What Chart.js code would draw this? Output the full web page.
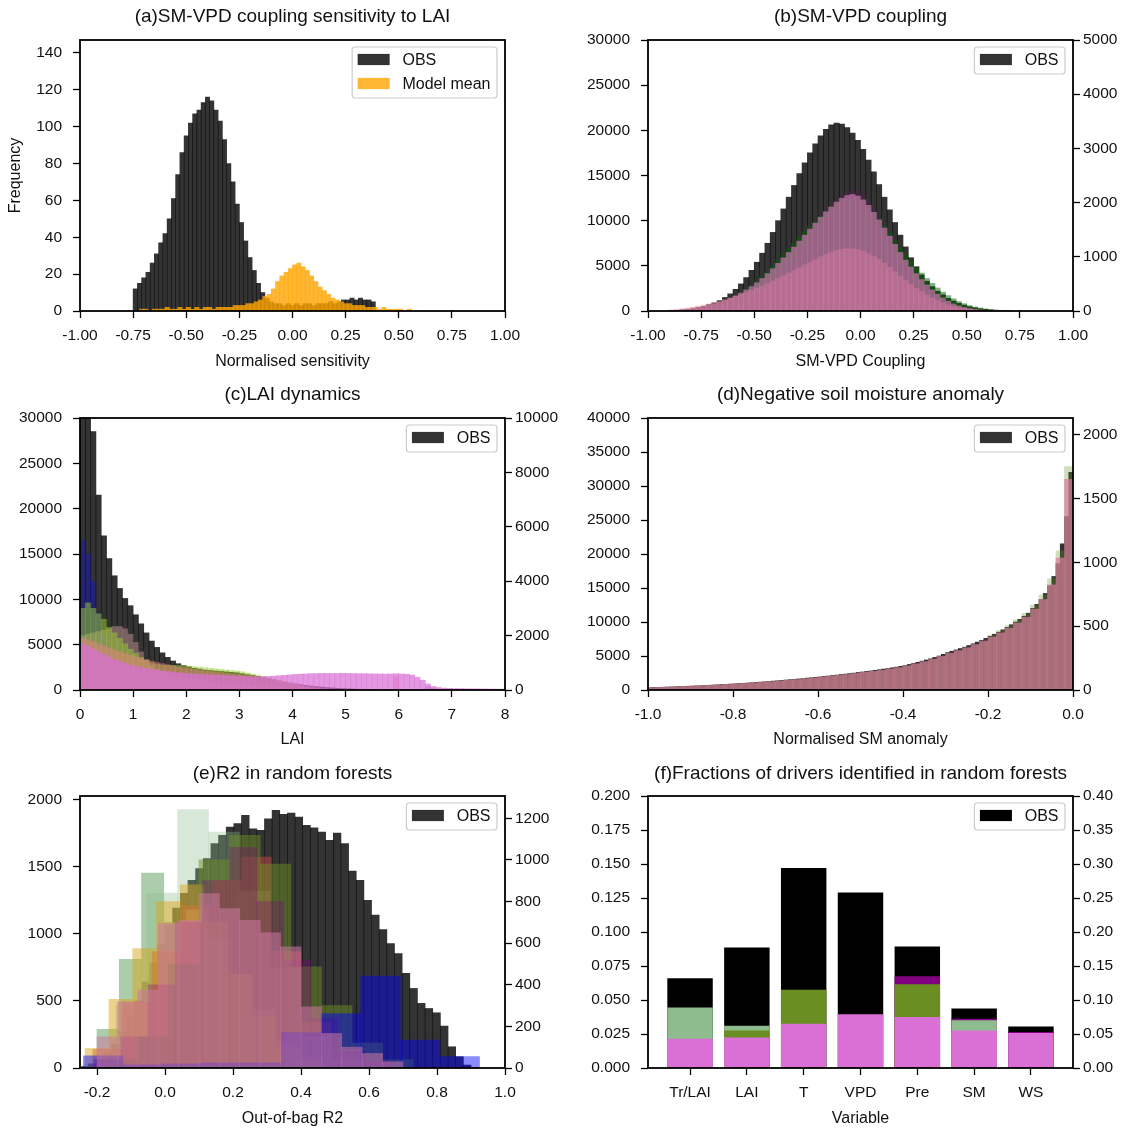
<!DOCTYPE html>
<html><head><meta charset="utf-8">
<script src="https://cdn.jsdelivr.net/npm/chart.js@4.4.1/dist/chart.umd.min.js"></script>
<style>
html,body{margin:0;padding:0;background:#fff;overflow:hidden}
#fig{position:relative;width:1132px;height:1130px;background:#fff}
canvas{position:absolute}
</style></head><body>
<div id="fig">
<canvas id="ca" width="566" height="380" style="left:0;top:0"></canvas>
<canvas id="cb" width="566" height="380" style="left:566px;top:0"></canvas>
<canvas id="cc" width="566" height="380" style="left:0;top:380px"></canvas>
<canvas id="cd" width="566" height="380" style="left:566px;top:380px"></canvas>
<canvas id="ce" width="566" height="370" style="left:0;top:760px"></canvas>
<canvas id="cf" width="566" height="370" style="left:566px;top:760px"></canvas>
</div>
<script>
// ---------------- DATA ----------------
// (a) histograms: bin start, bin width, counts
const aObsStart = -0.75, aObsWidth = 0.02;
const aObs = [12,15,18,21,26,31,37,42,50,61, 74,86,95,102,107,109,113,116,114,109,
  103,93,80,70,58,48,38,29,22,15, 10,7,5,4,4,3,4,3,4,3, 4,4,3,4,4,4,5,4,5,6, 6,7,6,7,6,6,5];
const aModelStart = -0.72, aModelWidth = 0.02;
const aModel = [1,1,0,1,1,1,2,1,1,2, 1,2,1,2,1,2,2,1,2,2, 2,2,3,3,3,4,4,5,6,8,
  9,12,16,19,21,23,25,26,24,22, 19,16,13,11,9,7,6,5,4,4, 3,3,3,2,2,2,1,2,1,1, 1,1,0,1];

// (b) SM-VPD coupling (bins of 0.025 from -0.9)
const bStart = -0.9, bWidth = 0.025;
const bObs = [40,70,120,190,280,390,520,700,900,1150,1500,1900,2400,3000,3700,4500,5400,6400,7500,8700,
  10000,11300,12600,13900,15200,16400,17500,18500,19400,20100,20600,20800,20700,20300,19700,18900,17900,16700,15400,14000,
  12600,11200,9800,8400,7100,5900,4900,4000,3300,2700,2200,1800,1400,1100,850,650,480,350,250,180,120,80,50,30];
const bGreen = [5,10,15,25,35,50,70,90,115,145,180,225,275,330,395,465,545,635,730,830,
  935,1040,1145,1250,1355,1460,1560,1655,1745,1830,1905,1970,2030,2070,2080,2060,2010,1930,1830,1710,
  1580,1440,1300,1170,1040,920,810,700,600,510,425,350,285,225,175,135,100,75,55,40,28,18,10,5];
const bPurple = [0,0,0,0,5,10,15,25,35,50,70,95,125,160,205,255,315,385,465,555,
  655,765,880,1000,1125,1255,1385,1515,1645,1770,1890,2000,2100,2180,2230,2210,2140,2030,1890,1730,
  1560,1380,1200,1030,870,720,590,470,370,285,215,160,115,80,55,35,22,13,7,4,2,1,0,0];
const bCoral = [20,30,42,56,72,90,110,132,156,182,210,240,272,306,342,380,420,462,506,552,
  600,650,700,750,800,850,900,950,1000,1045,1085,1120,1140,1150,1145,1130,1100,1060,1010,950,
  880,805,725,645,565,490,420,355,295,240,192,150,115,86,63,45,31,21,14,9,5,3,2,1];
const bOrchid = [10,15,25,35,50,65,85,105,130,160,195,235,280,330,390,450,520,600,690,780,
  880,980,1080,1180,1290,1400,1510,1620,1730,1830,1920,2010,2080,2130,2150,2120,2050,1950,1820,1680,
  1530,1380,1230,1080,940,810,690,580,480,390,310,240,180,130,95,65,45,30,20,12,8,5,3,2];

// (c) LAI dynamics (bins of 0.1 from 0)
const cStart = 0, cWidth = 0.1;
const cObs = [45000,36000,28500,21500,17000,14500,12600,11200,10100,9300, 8300,7300,6300,5400,4700,4100,3600,3200,2900,2700,
  2550,2400,2300,2200,2150,2100,2050,2000,1950,1900, 1800,1700,1600,1480,1360,1240,1120,1000,880,770,
  670,580,500,430,370,320,270,230,190,160, 130,110,90,75,60,50,40,32,25,20,
  15,10,8,5,3,2,1,1,0,0, 0,0,0,0,0,0,0,0,0,0];
const cBlue = [5500,5000,4000,2800,2000,1600,1300,1100,950,850, 780,720,670,630,600,580,560,550,540,530,
  500,470,440,410,380,350,320,290,260,230, 200,180,160,140,120,100,85,70,60,50,
  40,35,30,25,20,15,12,10,8,6, 5,4,3,3,2,2,2,2,2,2, 2,2,2,2,2,120,60,0,0,0, 0,0,0,0,0,0,0,0,0,0];
const cRosy = [2000,2050,2100,2150,2200,2250,2330,2330,2250,2050, 1750,1400,1100,900,760,660,590,540,500,460,
  430,400,370,340,310,285,260,240,220,200, 180,160,145,130,115,100,90,80,70,60,
  50,45,40,35,30,25,20,18,15,12, 10,8,6,5,4,3,2,2,1,1, 0,0,0,0,0,0,0,0,0,0, 0,0,0,0,0,0,0,0,0,0];
const cOlive = [3000,3200,3000,2800,2600,2300,2100,1900,1700,1500, 1350,1200,1100,1000,950,920,910,905,900,900,
  880,860,840,820,800,780,760,740,720,700, 670,630,590,545,500,450,400,350,300,250,
  200,150,110,80,50,30,20,10,5,0, 0,0,0,0,0,0,0,0,0,0, 0,0,0,0,0,0,0,0,0,0, 0,0,0,0,0,0,0,0,0,0];
const cCoral = [1900,1850,1780,1700,1620,1550,1480,1410,1340,1280, 1220,1160,1110,1060,1010,970,930,890,850,820,
  790,760,730,700,680,660,640,610,590,570, 550,530,510,480,450,420,380,340,300,260,
  220,180,140,110,80,60,40,30,20,10, 5,5,5,5,5,5,5,5,5,500, 5,0,0,0,0,0,0,0,0,0, 0,0,0,0,0,0,0,0,0,0];
const cOrchid = [1700,1600,1500,1400,1300,1200,1120,1050,980,920, 870,830,790,760,730,700,680,660,640,620,
  600,590,580,570,560,550,540,530,520,510, 500,495,490,490,495,500,510,525,540,555,
  570,580,590,600,605,610,610,605,610,615, 610,605,600,600,595,590,590,585,590,600,
  590,580,550,470,360,220,130,90,70,60, 55,50,48,45,42,40,38,35,33,30];

// (d) negative SM anomaly
const dObsStart = -1, dObsWidth = 0.01;
const dObs = [350,370,390,410,430,455,480,505,530,555, 580,610,640,670,700,735,770,805,840,875,
  910,950,990,1030,1075,1120,1165,1210,1260,1310, 1360,1410,1465,1520,1575,1630,1690,1750,1810,1870,
  1930,1990,2060,2130,2200,2270,2340,2410,2490,2570, 2650,2730,2810,2900,2990,3080,3170,3270,3370,3480,
  3600,3760,3920,4080,4250,4420,4600,4800,5000,5250, 5500,5700,5900,6100,6300,6550,6800,7050,7300,7600,
  7900,8200,8500,8850,9200,9600,10000,10400,10850,11300, 12000,12600,13300,14200,15300,16700,18600,21500,25500,32000];
const dModStart = -1, dModWidth = 0.02;
const dMauve = [18,21,23,25,28,31,34,37,40,44, 48,52,56,61,66,71,77,82,89,95,
  101,108,115,122,130,139,147,156,166,176, 190,206,223,242,264,288,309,331,357,384,
  415,447,484,525,570,633,708,824,1033,1650];
const dGreen = [17,20,22,24,27,30,33,36,39,43, 46,50,54,59,64,69,75,80,86,92,
  98,105,112,118,126,135,143,151,161,171, 184,200,216,235,256,280,300,321,346,373,
  430,465,505,550,600,665,745,870,1090,1750];

// (e) out-of-bag R2
const eObsStart = -0.2475, eObsWidth = 0.0225;
const eObs = [10,30,60,110,180,270,380,500,640,780,920,1060,1190,1300,
  1397,1484,1558,1670,1731,1793,1818,1880,1780,1768,1855,1917,1887,1897,1867,1805,1788,1756,1694,1748,1670,
  1466,1397,1248,1137,1030,926,852,704,592,481,443,411,312,158,84,22,5];
const ePaleStart = -0.236, ePaleWidth = 0.091, ePale = [20,300,841,1242,1134,850,480,150,40];
const eSeaStart = -0.2, eSeaWidth = 0.0655, eSea = [186,522,937,700,760,620,450,280,130,50];
const eRedStart = -0.2125, eRedWidth = 0.0875, eRed = [90,318,560,780,900,1014,560,220,90,30];
const eOrangeStart = -0.235, eOrangeWidth = 0.07, eOrange = [94,330,574,800,880,700,450,250,100,30];
const eOliveStart = -0.17, eOliveWidth = 0.09, eOlive = [40,150,500,1000,1118,980,486,300,120,40];
const ePurpleStart = -0.21, ePurpleWidth = 0.08, ePurple = [40,150,400,700,900,1060,800,520,240,80,30];
const ePinkStart = -0.2, ePinkWidth = 0.06, ePink = [150,318,374,694,710,838,766,710,650,582,294,166,100,70,30];
const eBlueStart = -0.24, eBlueWidth = 0.1165, eBlue = [58,15,20,25,25,170,262,442,134,55];

// (f) fractions of drivers
const fCats = ['Tr/LAI','LAI','T','VPD','Pre','SM','WS'];
const fObs = [0.066,0.0886,0.147,0.129,0.0894,0.0437,0.0305];
const fOrchid = [0.043,0.045,0.065,0.079,0.075,0.0553,0.0514];
const fLightGreen = [0.089,0.062,null,null,null,0.0702,null];
const fOlive = [null,0.055,0.115,null,0.123,null,null];
const fPurple = [null,null,null,null,0.135,0.0726,0.0528];

// ---------------- HELPERS ----------------
const FONT = '"Liberation Sans", Arial, Helvetica, sans-serif';
Chart.defaults.font.family = FONT;
Chart.defaults.color = '#111';
const TF = 15.5, LF = 16;

function tickGrid() {
  return {display:true, drawOnChartArea:false, drawTicks:true, tickLength:7, tickColor:'#000', tickWidth:1.3, offset:false};
}
function fixedTicks(min, max, step) {
  return (s) => {
    const t = [];
    const first = Math.ceil(min / step - 1e-9);
    for (let k = first; k * step <= max + 1e-9; k++) t.push({value: +(k * step).toFixed(6)});
    s.ticks = t;
  };
}
function xAxis(o) {
  return {type:'linear', position:'bottom', min:o.min, max:o.max, offset:false,
    ticks:{autoSkip:false, maxRotation:0, padding:8.7, font:{size:TF}, color:'#111', callback:o.fmt},
    afterBuildTicks: fixedTicks(o.min, o.max, o.step),
    grid:tickGrid(), border:{display:false},
    title:{display:true, text:o.title, font:{size:LF}, color:'#111', padding:{top:0,bottom:o.titlePad}},
    afterFit:(s)=>{ s.height = o.height; }};
}
function yAxis(o) {
  return {type:'linear', position:o.pos, min:0, max:o.max,
    ticks:{autoSkip:false, padding:(o.pos === 'left' ? 11 : 3), font:{size:TF}, color:'#111', callback:o.fmt},
    afterBuildTicks: fixedTicks(0, o.max, o.step),
    grid:tickGrid(), border:{display:false},
    title: o.title ? {display:true, text:o.title, font:{size:LF}, color:'#111', padding:{top:6,bottom:0}} : {display:false},
    afterFit:(s)=>{ s.width = o.width; }};
}
function hiddenX(min, max) {
  return {type:'linear', display:false, min, max, offset:false, ticks:{count:2}, grid:{offset:false}};
}
function hist(label, start, width, values, color, xID, yID, order) {
  return {type:'bar', label, data: values.map((v,i)=>({x: start + (i+0.5)*width, y: v})),
    backgroundColor: color, borderWidth:0, barPercentage:1, categoryPercentage:1, grouped:false,
    xAxisID:xID, yAxisID:yID, clip:0, order};
}
function catBars(label, values, color, yID, order) {
  return {type:'bar', label, data: values.map((v,i)=>({x:i, y:v})), backgroundColor:color, borderWidth:0,
    barPercentage:0.8, categoryPercentage:1, grouped:false, xAxisID:'x', yAxisID:yID, clip:0, order};
}
const fmt0 = v => String(Math.round(v));
const fmtN = d => v => (Math.abs(v) < 1e-9 ? 0 : v).toFixed(d);

const framePlugin = {id:'frame', afterDatasetsDraw(chart) {
  const {ctx, chartArea:a} = chart; ctx.save();
  ctx.strokeStyle = '#000'; ctx.lineWidth = 1.8;
  ctx.strokeRect(a.left, a.top, a.right - a.left, a.bottom - a.top); ctx.restore();
}};
const legendPlugin = {id:'insideLegend', afterDraw(chart, args, opts) {
  const items = opts.items; if (!items || !items.length) return;
  const {ctx, chartArea:a} = chart; const F = 16;
  ctx.save(); ctx.font = F + 'px ' + FONT;
  let tw = 0; items.forEach(it => { tw = Math.max(tw, ctx.measureText(it.label).width); });
  const padL = 5.5, hw = 32, hh = 11.2, gap = 12.8, padR = 6.5, rowH = 24;
  const w = padL + hw + gap + tw + padR, h = 27 + (items.length - 1) * rowH;
  const right = a.right - 8, top = a.top + 7, left = right - w, r = 3;
  ctx.beginPath();
  ctx.moveTo(left + r, top); ctx.lineTo(left + w - r, top); ctx.arcTo(left + w, top, left + w, top + r, r);
  ctx.lineTo(left + w, top + h - r); ctx.arcTo(left + w, top + h, left + w - r, top + h, r);
  ctx.lineTo(left + r, top + h); ctx.arcTo(left, top + h, left, top + h - r, r);
  ctx.lineTo(left, top + r); ctx.arcTo(left, top, left + r, top, r); ctx.closePath();
  ctx.fillStyle = 'rgba(255,255,255,0.85)'; ctx.fill();
  ctx.strokeStyle = '#cccccc'; ctx.lineWidth = 1.2; ctx.stroke();
  items.forEach((it, i) => {
    const cy = top + 12.5 + i * rowH;
    ctx.fillStyle = it.color; ctx.fillRect(left + padL, cy - hh / 2, hw, hh);
    ctx.fillStyle = '#111'; ctx.textAlign = 'left'; ctx.textBaseline = 'middle';
    ctx.fillText(it.label, left + padL + hw + gap, cy + 1);
  });
  ctx.restore();
}};

function make(id, o) {
  return new Chart(document.getElementById(id), {
    type:'bar',
    data:{datasets:o.datasets},
    options:{
      responsive:false, animation:false, events:[],
      layout:{padding:{left:0, right:o.padRight || 0, top:0, bottom:0}},
      plugins:{
        legend:{display:false}, tooltip:{enabled:false},
        title:{display:true, fullSize:false, text:o.title, color:'#111', font:{size:19, weight:'normal'}, padding:{top:o.tp, bottom:o.tb}},
        insideLegend:{items:o.legend}
      },
      scales:o.scales
    },
    plugins:[framePlugin, legendPlugin]
  });
}

const OBS = 'rgba(0,0,0,0.8)';
const R1 = [5.3, 11.9], R2 = [3.6, 11.6], R3 = [2.6, 10.6];

// (a)
make('ca', {
  title:'(a)SM-VPD coupling sensitivity to LAI', tp:R1[0], tb:R1[1], padRight:61,
  legend:[{label:'OBS', color:OBS},{label:'Model mean', color:'rgba(255,165,0,0.8)'}],
  datasets:[
    hist('Model mean', aModelStart, aModelWidth, aModel, 'rgba(255,165,0,0.8)', 'xm', 'y', 0),
    hist('OBS', aObsStart, aObsWidth, aObs, OBS, 'x', 'y', 1)
  ],
  scales:{
    x: xAxis({min:-1, max:1, step:0.25, fmt:fmtN(2), title:'Normalised sensitivity', titlePad:8.9, height:69}),
    xm: hiddenX(-1, 1),
    y: yAxis({pos:'left', max:147, step:20, fmt:fmt0, width:80, title:'Frequency'})
  }
});

// (b)
make('cb', {
  title:'(b)SM-VPD coupling', tp:R1[0], tb:R1[1],
  legend:[{label:'OBS', color:OBS}],
  datasets:[
    hist('Model 4', bStart, bWidth, bOrchid, 'rgba(210,120,180,0.65)', 'x', 'y2', 1),
    hist('Model 3', bStart, bWidth, bCoral, 'rgba(240,128,128,0.45)', 'x', 'y2', 2),
    hist('Model 2', bStart, bWidth, bPurple, 'rgba(128,0,128,0.15)', 'x', 'y2', 3),
    hist('Model 1', bStart, bWidth, bGreen, 'rgba(0,100,0,0.5)', 'x', 'y2', 4),
    hist('OBS', bStart, bWidth, bObs, OBS, 'x', 'y', 10)
  ],
  scales:{
    x: xAxis({min:-1, max:1, step:0.25, fmt:fmtN(2), title:'SM-VPD Coupling', titlePad:8.9, height:69}),
    y: yAxis({pos:'left', max:30000, step:5000, fmt:fmt0, width:82}),
    y2: yAxis({pos:'right', max:5000, step:1000, fmt:fmt0, width:59})
  }
});

// (c)
make('cc', {
  title:'(c)LAI dynamics', tp:R2[0], tb:R2[1],
  legend:[{label:'OBS', color:OBS}],
  datasets:[
    hist('Model 5', cStart, cWidth, cOrchid, 'rgba(218,112,214,0.72)', 'x', 'y2', 1),
    hist('Model 4', cStart, cWidth, cCoral, 'rgba(240,128,128,0.45)', 'x', 'y2', 2),
    hist('Model 3', cStart, cWidth, cOlive, 'rgba(154,205,50,0.5)', 'x', 'y2', 3),
    hist('Model 2', cStart, cWidth, cRosy, 'rgba(188,143,143,0.5)', 'x', 'y2', 4),
    hist('Model 1', cStart, cWidth, cBlue, 'rgba(0,0,255,0.3)', 'x', 'y2', 5),
    hist('OBS', cStart, cWidth, cObs, OBS, 'x', 'y', 10)
  ],
  scales:{
    x: xAxis({min:0, max:8, step:1, fmt:fmt0, title:'LAI', titlePad:10.4, height:70}),
    y: yAxis({pos:'left', max:30000, step:5000, fmt:fmt0, width:80}),
    y2: yAxis({pos:'right', max:10000, step:2000, fmt:fmt0, width:61})
  }
});

// (d)
make('cd', {
  title:'(d)Negative soil moisture anomaly', tp:R2[0], tb:R2[1],
  legend:[{label:'OBS', color:OBS}],
  datasets:[
    hist('Model 2', dModStart, dModWidth, dMauve, 'rgba(215,125,155,0.7)', 'xm', 'y2', 1),
    hist('Model 1', dModStart, dModWidth, dGreen, 'rgba(107,142,35,0.3)', 'xm', 'y2', 2),
    hist('OBS', dObsStart, dObsWidth, dObs, OBS, 'x', 'y', 10)
  ],
  scales:{
    x: xAxis({min:-1, max:0, step:0.2, fmt:fmtN(1), title:'Normalised SM anomaly', titlePad:10.4, height:70}),
    xm: hiddenX(-1, 0),
    y: yAxis({pos:'left', max:40000, step:5000, fmt:fmt0, width:82}),
    y2: yAxis({pos:'right', max:2130, step:500, fmt:fmt0, width:59})
  }
});

// (e)
make('ce', {
  title:'(e)R2 in random forests', tp:R3[0], tb:R3[1],
  legend:[{label:'OBS', color:OBS}],
  datasets:[
    hist('Model 8', ePinkStart, ePinkWidth, ePink, 'rgba(205,120,160,0.55)', 'xm7', 'y2', 2),
    hist('Model 7', eBlueStart, eBlueWidth, eBlue, 'rgba(0,0,255,0.45)', 'xm8', 'y2', 3),
    hist('Model 6', ePurpleStart, ePurpleWidth, ePurple, 'rgba(128,0,128,0.3)', 'xm6', 'y2', 4),
    hist('Model 5', eOliveStart, eOliveWidth, eOlive, 'rgba(107,142,35,0.5)', 'xm5', 'y2', 5),
    hist('Model 4', eOrangeStart, eOrangeWidth, eOrange, 'rgba(218,165,32,0.5)', 'xm4', 'y2', 6),
    hist('Model 3', eRedStart, eRedWidth, eRed, 'rgba(205,70,70,0.5)', 'xm3', 'y2', 7),
    hist('Model 2', eSeaStart, eSeaWidth, eSea, 'rgba(143,188,143,0.75)', 'xm2', 'y2', 8),
    hist('Model 1', ePaleStart, ePaleWidth, ePale, 'rgba(143,188,143,0.35)', 'xm1', 'y2', 9),
    hist('OBS', eObsStart, eObsWidth, eObs, OBS, 'x', 'y', 20)
  ],
  scales:{
    x: xAxis({min:-0.25, max:1.0, step:0.2, fmt:fmtN(1), title:'Out-of-bag R2', titlePad:2.1, height:62}),
    xm1: hiddenX(-0.25, 1.0), xm2: hiddenX(-0.25, 1.0), xm3: hiddenX(-0.25, 1.0), xm4: hiddenX(-0.25, 1.0),
    xm5: hiddenX(-0.25, 1.0), xm6: hiddenX(-0.25, 1.0), xm7: hiddenX(-0.25, 1.0), xm8: hiddenX(-0.25, 1.0),
    y: yAxis({pos:'left', max:2024, step:500, fmt:fmt0, width:80}),
    y2: yAxis({pos:'right', max:1307, step:200, fmt:fmt0, width:61})
  }
});

// (f)
make('cf', {
  title:'(f)Fractions of drivers identified in random forests', tp:R3[0], tb:R3[1],
  legend:[{label:'OBS', color:'#000'}],
  datasets:[
    catBars('Model 4', fOrchid, 'orchid', 'y2', 1),
    catBars('Model 3', fOlive, 'olivedrab', 'y2', 2),
    catBars('Model 2', fLightGreen, 'darkseagreen', 'y2', 3),
    catBars('Model 1', fPurple, 'purple', 'y2', 4),
    catBars('OBS', fObs, '#000', 'y', 10)
  ],
  scales:{
    x: xAxis({min:-0.74, max:6.74, step:1, fmt:(v)=>fCats[Math.round(v)] ?? '', title:'Variable', titlePad:2.1, height:62}),
    y: yAxis({pos:'left', max:0.2, step:0.025, fmt:fmtN(3), width:82}),
    y2: yAxis({pos:'right', max:0.4, step:0.05, fmt:fmtN(2), width:59})
  }
});
</script>
</body></html>
